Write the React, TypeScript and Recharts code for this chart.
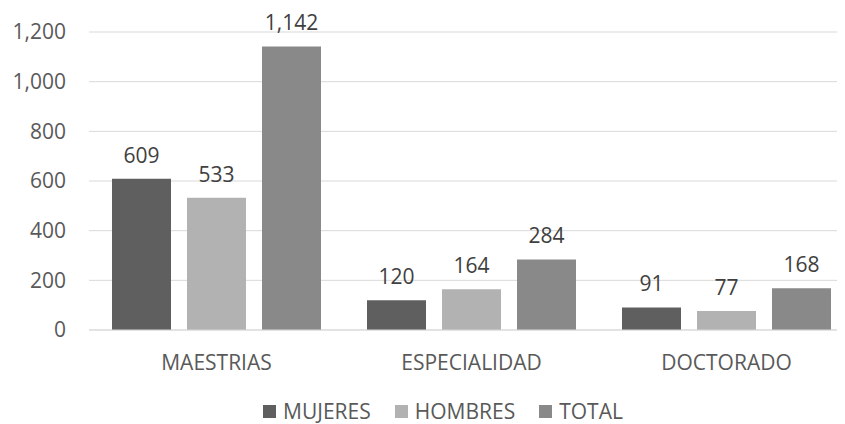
import React from "react";
import { BarChart, Bar, XAxis, YAxis, CartesianGrid, Legend, LabelList } from "recharts";

const categories = ["MAESTRIAS", "ESPECIALIDAD", "DOCTORADO"];
const mujeres = [609, 120, 91];
const hombres = [533, 164, 77];
const total = [1142, 284, 168];
const yTicks = [0, 200, 400, 600, 800, 1000, 1200];

const series = [
  { key: "mujeres", name: "MUJERES", color: "#5f5f5f" },
  { key: "hombres", name: "HOMBRES", color: "#b2b2b2" },
  { key: "total", name: "TOTAL", color: "#898989" },
];

const data = categories.map((c, i) => ({ cat: c, mujeres: mujeres[i], hombres: hombres[i], total: total[i] }));

const FONT = "'Open Sans', sans-serif";
const fmt = (v: number) => Number(v).toLocaleString("en-US");

function LegendBox() {
  return (
    <div style={{ display: "flex", justifyContent: "center", paddingLeft: 24, paddingTop: 26, fontFamily: FONT, fontSize: 21, lineHeight: "22px", color: "#595959" }}>
      {series.map((s) => (
        <div key={s.key} style={{ display: "flex", alignItems: "center", margin: "0 12px" }}>
          <span style={{ display: "inline-block", width: 13, height: 13, background: s.color, marginRight: 7 }} />
          <span>{s.name}</span>
        </div>
      ))}
    </div>
  );
}

export default function App() {
  return (
    <div style={{ width: 837, height: 416, overflow: "hidden" }}>
      <BarChart width={850} height={416} data={data} margin={{ top: 24, right: 4, left: 0, bottom: 0 }} barSize={59} barGap={16}>
        <CartesianGrid vertical={false} stroke="#d9d9d9" />
        <XAxis dataKey="cat" height={44} tickLine={false} axisLine={{ stroke: "#d9d9d9" }} tickSize={0} tickMargin={25}
          tick={{ fill: "#595959", fontSize: 21, fontFamily: FONT }} />
        <YAxis width={81} domain={[0, 1200]} ticks={yTicks} tickFormatter={fmt} axisLine={false} tickLine={false} tickSize={0} tickMargin={23}
          tick={{ fill: "#595959", fontSize: 21, fontFamily: FONT }} />
        <Legend verticalAlign="bottom" content={<LegendBox />} wrapperStyle={{ height: 50 }} />
        {series.map((s) => (
          <Bar key={s.key} dataKey={s.key} name={s.name} fill={s.color} isAnimationActive={false}>
            <LabelList dataKey={s.key} position="top" offset={16} formatter={fmt} fill="#404040" fontSize={21} fontFamily={FONT} />
          </Bar>
        ))}
      </BarChart>
    </div>
  );
}
